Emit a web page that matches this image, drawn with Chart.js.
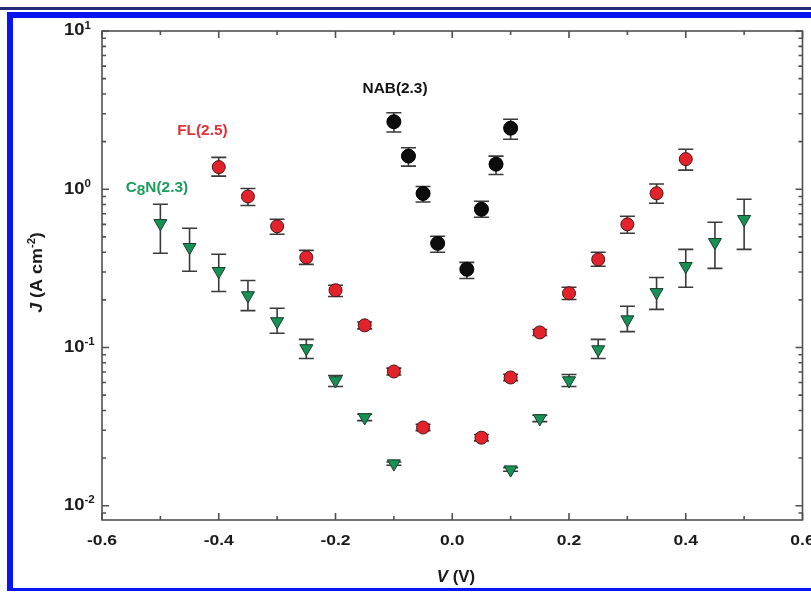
<!DOCTYPE html>
<html>
<head>
<meta charset="utf-8">
<script src="https://cdn.jsdelivr.net/npm/chart.js@4.4.0/dist/chart.umd.min.js"></script>
<style>
html, body { margin: 0; padding: 0; background: #fff; }
#wrap { position: relative; width: 811px; height: 592px; overflow: hidden; }
#jvChart { position: absolute; left: 0; top: 0; }
.bar { position: absolute; pointer-events: none; }
</style>
</head>
<body>
<div id="wrap">
  <canvas id="jvChart" width="811" height="592"></canvas>
  <div class="bar" style="left:0;top:7px;width:811px;height:3px;background:#262b78"></div>
  <div class="bar" style="left:7px;top:12px;width:804px;height:6px;background:#0a14f0"></div>
  <div class="bar" style="left:7px;top:12px;width:6px;height:578px;background:#0a14f0"></div>
  <div class="bar" style="left:7px;top:588px;width:804px;height:3px;background:#0a14f0"></div>
</div>
<script>
// axis ticks
const xTicks = [-0.6, -0.4, -0.2, 0.0, 0.2, 0.4, 0.6];
const xTickLabels = ['-0.6', '-0.4', '-0.2', '0.0', '0.2', '0.4', '0.6'];
const yTicks = [0.01, 0.1, 1, 10];
const yTickExp = ['-2', '-1', '0', '1'];

// NAB(2.3)
const vNAB = [-0.1, -0.075, -0.05, -0.025, 0.025, 0.05, 0.075, 0.1];
const jNAB = [2.67, 1.62, 0.94, 0.455, 0.312, 0.747, 1.44, 2.43];
const jNABlo = [2.30, 1.40, 0.83, 0.40, 0.273, 0.665, 1.24, 2.07];
const jNABhi = [3.04, 1.83, 1.04, 0.505, 0.345, 0.84, 1.62, 2.77];

// FL(2.5)
const vFL = [-0.4, -0.35, -0.3, -0.25, -0.2, -0.15, -0.1, -0.05, 0.05, 0.1, 0.15, 0.2, 0.25, 0.3, 0.35, 0.4];
const jFL = [1.38, 0.90, 0.583, 0.371, 0.230, 0.138, 0.0705, 0.0312, 0.0269, 0.0646, 0.1245, 0.220, 0.360, 0.60, 0.943, 1.55];
const jFLlo = [1.21, 0.79, 0.519, 0.335, 0.210, 0.131, 0.067, 0.0298, 0.0257, 0.0617, 0.119, 0.201, 0.326, 0.527, 0.815, 1.32];
const jFLhi = [1.59, 1.01, 0.646, 0.411, 0.247, 0.145, 0.074, 0.0327, 0.0282, 0.0677, 0.130, 0.240, 0.40, 0.675, 1.08, 1.79];

// C8N(2.3)
const vC8N = [-0.5, -0.45, -0.4, -0.35, -0.3, -0.25, -0.2, -0.15, -0.1, 0.1, 0.15, 0.2, 0.25, 0.3, 0.35, 0.4, 0.45, 0.5];
const jC8N = [0.609, 0.430, 0.303, 0.213, 0.146, 0.0986, 0.0618, 0.0361, 0.01845, 0.0169, 0.0356, 0.0618, 0.097, 0.150, 0.223, 0.326, 0.462, 0.646];
const jC8Nlo = [0.394, 0.303, 0.226, 0.171, 0.123, 0.0852, 0.0567, 0.0345, 0.0180, 0.0165, 0.034, 0.0567, 0.0852, 0.126, 0.174, 0.240, 0.316, 0.417];
const jC8Nhi = [0.804, 0.567, 0.388, 0.265, 0.177, 0.1125, 0.0665, 0.0378, 0.0189, 0.0174, 0.0373, 0.0675, 0.1125, 0.182, 0.277, 0.417, 0.618, 0.865];

// series labels, placed in data coordinates
const seriesLabels = [
    { parts: [['NAB(2.3)', 0]], v: -0.098, j: 4.3, color: '#111111' },
    { parts: [['FL(2.5)', 0]], v: -0.428, j: 2.33, color: '#e3303a' },
    { parts: [['C', 0], ['8', 3], ['N(2.3)', 0]], v: -0.506, j: 1.02, color: '#1c9d5e' }
];

const toPoints = (v, j, lo, hi) => v.map((x, i) => ({ x: x, y: j[i], lo: lo[i], hi: hi[i] }));

const FONT = '"Liberation Sans", Arial, sans-serif';

// draw a row of text pieces, stretched horizontally like the original figure
function drawParts(ctx, parts, x, y, align, sx, color) {
    let w = 0;
    parts.forEach(p => { ctx.font = p.font; p.w = ctx.measureText(p.t).width; w += p.w; });
    let cx = align === 'center' ? -w / 2 : (align === 'right' ? -w : 0);
    ctx.save();
    ctx.translate(x, y);
    ctx.scale(sx, 1);
    ctx.textAlign = 'left';
    ctx.textBaseline = 'middle';
    ctx.fillStyle = color;
    parts.forEach(p => {
        ctx.font = p.font;
        ctx.fillText(p.t, cx, p.dy || 0);
        cx += p.w;
    });
    ctx.restore();
}

const errorBars = {
    id: 'errorBars',
    beforeDatasetsDraw(chart) {
        const ctx = chart.ctx;
        const xs = chart.scales.x, ys = chart.scales.y;
        ctx.save();
        ctx.strokeStyle = '#3a3a3a';
        ctx.lineWidth = 1.6;
        chart.data.datasets.forEach(ds => {
            ds.data.forEach(p => {
                const px = xs.getPixelForValue(p.x);
                const y1 = ys.getPixelForValue(p.lo);
                const y2 = ys.getPixelForValue(p.hi);
                ctx.beginPath();
                ctx.moveTo(px, y1); ctx.lineTo(px, y2);
                ctx.moveTo(px - 7.5, y1); ctx.lineTo(px + 7.5, y1);
                ctx.moveTo(px - 7.5, y2); ctx.lineTo(px + 7.5, y2);
                ctx.stroke();
            });
        });
        ctx.restore();
    }
};

const frameAxes = {
    id: 'frameAxes',
    afterDatasetsDraw(chart) {
        const ctx = chart.ctx;
        const a = chart.chartArea;
        const xs = chart.scales.x, ys = chart.scales.y;
        ctx.save();
        ctx.strokeStyle = '#505050';
        ctx.lineWidth = 1.6;
        ctx.strokeRect(a.left, a.top, a.right - a.left, a.bottom - a.top);

        ctx.beginPath();
        // x ticks every 0.1, major every 0.2
        for (let k = -6; k <= 6; k++) {
            const px = xs.getPixelForValue(k / 10);
            const len = (k % 2 === 0) ? 7 : 4;
            ctx.moveTo(px, a.bottom); ctx.lineTo(px, a.bottom - len);
            ctx.moveTo(px, a.top); ctx.lineTo(px, a.top + len);
        }
        // log y ticks
        for (let d = -3; d <= 1; d++) {
            for (let m = 1; m <= 9; m++) {
                const v = m * Math.pow(10, d);
                if (v < ys.min || v > ys.max) continue;
                const py = ys.getPixelForValue(v);
                const len = m === 1 ? 7 : 4;
                ctx.moveTo(a.left, py); ctx.lineTo(a.left + len, py);
                ctx.moveTo(a.right, py); ctx.lineTo(a.right - len, py);
            }
        }
        ctx.stroke();
        ctx.restore();

        // tick labels
        xTicks.forEach((v, i) => {
            drawParts(ctx, [{ t: xTickLabels[i], font: 'bold 14px ' + FONT }],
                xs.getPixelForValue(v), 541, 'center', 1.25, '#1a1a1a');
        });
        yTicks.forEach((v, i) => {
            drawParts(ctx, [
                { t: '10', font: 'bold 16px ' + FONT },
                { t: yTickExp[i], font: 'bold 10px ' + FONT, dy: -5 }
            ], 64, ys.getPixelForValue(v), 'left', 1.15, '#1a1a1a');
        });

        // axis titles
        drawParts(ctx, [
            { t: 'V', font: 'italic bold 16px ' + FONT },
            { t: ' (V)', font: 'bold 16px ' + FONT }
        ], 456, 578, 'center', 1.05, '#1a1a1a');

        ctx.save();
        ctx.translate(38, (a.top + a.bottom) / 2 - 3);
        ctx.rotate(-Math.PI / 2);
        drawParts(ctx, [
            { t: 'J', font: 'italic bold 16px ' + FONT },
            { t: ' (A cm', font: 'bold 16px ' + FONT },
            { t: '-2', font: 'bold 10px ' + FONT, dy: -6 },
            { t: ')', font: 'bold 16px ' + FONT }
        ], 0, 0, 'center', 1.12, '#1a1a1a');
        ctx.restore();

        // series labels
        seriesLabels.forEach(l => {
            drawParts(ctx, l.parts.map(p => ({ t: p[0], font: 'bold 14px ' + FONT, dy: p[1] })),
                xs.getPixelForValue(l.v), ys.getPixelForValue(l.j), 'center', 1.1, l.color);
        });
    }
};

const jvChart = new Chart(document.getElementById('jvChart').getContext('2d'), {
    type: 'scatter',
    data: {
        datasets: [{
            label: 'C8N(2.3)',
            data: toPoints(vC8N, jC8N, jC8Nlo, jC8Nhi),
            pointStyle: 'triangle',
            rotation: 180,
            radius: 7.5,
            backgroundColor: '#179255',
            borderColor: '#1b3b2a',
            borderWidth: 1
        }, {
            label: 'FL(2.5)',
            data: toPoints(vFL, jFL, jFLlo, jFLhi),
            pointStyle: 'circle',
            radius: 6.5,
            backgroundColor: '#e3222b',
            borderColor: '#4a1515',
            borderWidth: 1
        }, {
            label: 'NAB(2.3)',
            data: toPoints(vNAB, jNAB, jNABlo, jNABhi),
            pointStyle: 'circle',
            radius: 7,
            backgroundColor: '#0d0d0d',
            borderColor: '#000000',
            borderWidth: 1
        }]
    },
    options: {
        responsive: false,
        animation: false,
        layout: { padding: { left: 102, top: 31, right: 6, bottom: 72 } },
        plugins: { legend: { display: false }, tooltip: { enabled: false } },
        scales: {
            x: { type: 'linear', min: -0.6, max: 0.6, display: false },
            y: { type: 'logarithmic', min: 0.00812, max: 10, display: false }
        }
    },
    plugins: [errorBars, frameAxes]
});
</script>
</body>
</html>
